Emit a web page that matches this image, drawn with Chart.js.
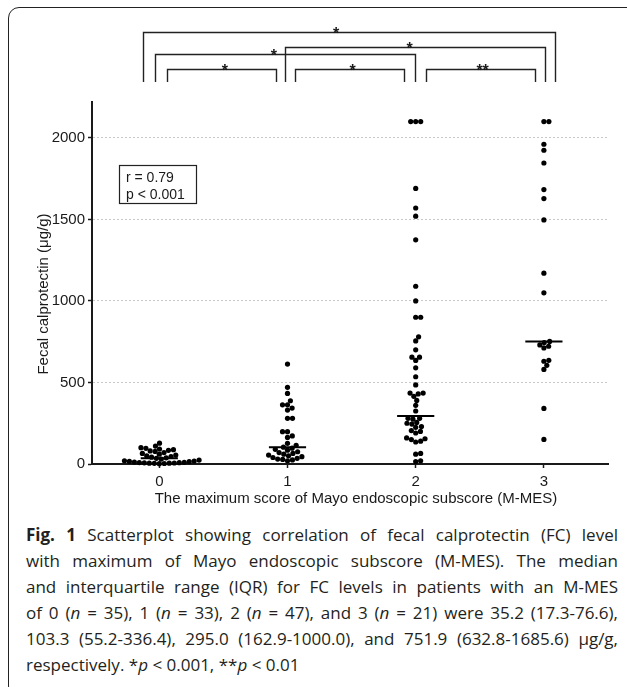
<!DOCTYPE html>
<html>
<head>
<meta charset="utf-8">
<script src="https://cdn.jsdelivr.net/npm/chart.js@4.4.1/dist/chart.umd.min.js"></script>
<style>
html, body { margin: 0; padding: 0; background: #fff; }
body { width: 627px; height: 687px; position: relative; overflow: hidden; }
#frame { position: absolute; left: 8px; top: 7px; width: 650px; height: 690px; border: 1.5px solid #222;
  border-radius: 11px 0 0 11px; box-sizing: border-box; }
#chart { position: absolute; left: 0; top: 0; }
#caption { position: absolute; left: 26px; top: 522px; width: 592px; font-family: "Open Sans", sans-serif;
  font-size: 17px; line-height: 26px; color: #231f20; }
#caption div { height: 26px; white-space: nowrap; }
#caption span { display: inline-block; transform-origin: 0 50%; }
</style>
</head>
<body>
<div id="frame"></div>
<canvas id="chart" width="627" height="520"></canvas>
<div id="caption">
<div><span><b>Fig. 1</b> Scatterplot showing correlation of fecal calprotectin (FC) level</span></div>
<div><span>with maximum of Mayo endoscopic subscore (M-MES). The median</span></div>
<div><span>and interquartile range (IQR) for FC levels in patients with an M-MES</span></div>
<div><span>of 0 (<i>n</i> = 35), 1 (<i>n</i> = 33), 2 (<i>n</i> = 47), and 3 (<i>n</i> = 21) were 35.2 (17.3-76.6),</span></div>
<div><span>103.3 (55.2-336.4), 295.0 (162.9-1000.0), and 751.9 (632.8-1685.6) μg/g,</span></div>
<div class="last"><span>respectively. *<i>p</i> &lt; 0.001, **<i>p</i> &lt; 0.01</span></div>
</div>
<script>
// M-MES groups
const categories = ['0', '1', '2', '3']
// fecal calprotectin (ug/g) per patient
const fc0 = [2, 3, 4, 5, 5, 6, 7, 8, 9, 10, 12, 14, 16, 18, 20, 24, 30, 35, 38, 42, 46, 50, 55, 60, 65, 70, 77, 80, 84, 88, 92, 96, 100, 110, 128]
const fc1 = [20, 25, 28, 30, 35, 40, 45, 50, 55, 60, 65, 70, 75, 85, 90, 97, 103, 115, 127, 163, 172, 198, 198, 280, 280, 331, 343, 363, 363, 388, 433, 470, 613]
const fc2 = [2100, 2100, 2100, 1690, 1570, 1520, 1375, 1090, 1000, 900, 900, 780, 755, 700, 655, 655, 635, 590, 535, 485,
  435, 435, 430, 415, 390, 360, 325, 280, 280, 275, 255, 250, 245, 230, 225, 205, 200, 190, 160, 155, 150, 140, 135, 65, 60, 20, 15]
const fc3 = [2100, 2100, 1961, 1924, 1846, 1683, 1628, 1497, 1170, 1050, 752, 745, 730, 722, 712, 636, 630, 605, 580, 341, 151]
const medians = [35.2, 103.3, 295.0, 751.9]
const yTicks = [0, 500, 1000, 1500, 2000]

// significance brackets, ends in x-axis units
const brackets = [
  { from: -0.13, to: 3.083, top: 32, mark: '*', at: 1.38 },
  { from: 0.984, to: 3.011, top: 47, mark: '*', at: 1.953 },
  { from: -0.034, to: 1.994, top: 54, mark: '*', at: 0.893 },
  { from: 0.062, to: 0.909, top: 69, mark: '*', at: 0.511 },
  { from: 1.062, to: 1.909, top: 69, mark: '*', at: 1.507 },
  { from: 2.078, to: 2.928, top: 69, mark: '**', at: 2.522 }
]
const bracketBottom = 82

const groups = [fc0, fc1, fc2, fc3]
const family = '"Liberation Sans", Arial, sans-serif'
const font = { family: family, size: 15 }
const ink = '#1a1a1a'

var annot = {
  id: 'annot',
  afterDraw(chart) {
    const ctx = chart.ctx
    const x = chart.scales.x
    ctx.save()
    ctx.strokeStyle = '#222'
    ctx.lineWidth = 1.4
    ctx.fillStyle = ink
    ctx.font = 'bold 16px ' + family
    ctx.textAlign = 'center'
    ctx.textBaseline = 'alphabetic'
    brackets.forEach(b => {
      const x1 = Math.round(x.getPixelForValue(b.from)) + 0.5
      const x2 = Math.round(x.getPixelForValue(b.to)) + 0.5
      ctx.beginPath()
      ctx.moveTo(x1, bracketBottom)
      ctx.lineTo(x1, b.top + 0.5)
      ctx.lineTo(x2, b.top + 0.5)
      ctx.lineTo(x2, bracketBottom)
      ctx.stroke()
      ctx.fillText(b.mark, x.getPixelForValue(b.at), b.top + 7)
    })
    // correlation box
    ctx.lineWidth = 1.2
    ctx.strokeRect(119.5, 165.5, 77, 38)
    ctx.font = '14px ' + family
    ctx.textAlign = 'left'
    ctx.textBaseline = 'middle'
    ctx.fillText('r = 0.79', 126, 178)
    ctx.fillText('p < 0.001', 126, 195)
    // axis titles
    ctx.font = '15px ' + family
    ctx.textAlign = 'center'
    ctx.fillText('The maximum score of Mayo endoscopic subscore (M-MES)', 356, 499)
    ctx.translate(44, 294)
    ctx.rotate(-Math.PI / 2)
    ctx.fillText('Fecal calprotectin (μg/g)', 0, 0)
    ctx.restore()
  }
}

var datasets = []
medians.forEach((m, i) => {
  datasets.push({
    data: [{ x: i - 0.145, y: m }, { x: i + 0.145, y: m }],
    showLine: true, borderColor: '#000', borderWidth: 2, pointRadius: 0, clip: false, order: 0
  })
})
groups.forEach((vals, i) => {
  datasets.push({
    data: vals.map(v => ({ x: i, y: v })),
    pointRadius: 2.6, pointBackgroundColor: '#000', pointBorderWidth: 0, showLine: false, clip: false, order: 1
  })
})

var ctx = document.getElementById('chart').getContext('2d')
var myChart = new Chart(ctx, {
  type: 'scatter',
  data: { datasets: datasets },
  options: {
    responsive: false,
    animation: false,
    layout: { padding: { top: 102, right: 19, left: 0, bottom: 0 } },
    plugins: { legend: { display: false }, tooltip: { enabled: false } },
    scales: {
      x: {
        type: 'linear', min: -0.525, max: 3.5,
        afterFit(s) { s.height = 56 },
        afterBuildTicks(s) { s.ticks = categories.map((c, i) => ({ value: i })) },
        ticks: { callback: v => categories[v], font: font, color: ink, padding: 5, maxRotation: 0 },
        grid: { drawOnChartArea: false, tickLength: 4, tickColor: ink, tickWidth: 1.5 },
        border: { color: ink, width: 2 }
      },
      y: {
        min: 0, max: 2220,
        afterFit(s) { s.width = 92 },
        afterBuildTicks(s) { s.ticks = yTicks.map(v => ({ value: v })) },
        ticks: { callback: v => String(v), font: font, color: ink, padding: 3 },
        grid: {
          color: c => (c.tick && c.tick.value === 0) ? 'rgba(0,0,0,0)' : '#c8c8c8',
          lineWidth: 1, tickLength: 4, tickColor: ink, tickWidth: 1.5
        },
        border: { color: ink, width: 2, dash: [2, 2] }
      }
    }
  },
  plugins: [annot]
})

// beeswarm: spread points sideways so dots of diameter d don't overlap
function swarm(py, d) {
  const idx = py.map((p, i) => i).sort((a, b) => py[b] - py[a])
  const placed = []
  const out = new Array(py.length)
  idx.forEach(i => {
    const cands = [0]
    placed.forEach(p => {
      const dy = py[i] - p.y
      if (Math.abs(dy) < d) {
        const w = Math.sqrt(d * d - dy * dy)
        cands.push(p.x + w, p.x - w)
      }
    })
    cands.sort((a, b) => Math.abs(a) - Math.abs(b))
    for (const c of cands) {
      if (placed.every(p => (c - p.x) * (c - p.x) + (py[i] - p.y) * (py[i] - p.y) >= d * d - 0.01)) {
        out[i] = c
        placed.push({ x: c, y: py[i] })
        break
      }
    }
  })
  return out
}

var xs = myChart.scales.x, ys = myChart.scales.y
var unit = xs.getPixelForValue(1) - xs.getPixelForValue(0)
groups.forEach((vals, i) => {
  const offs = swarm(vals.map(v => ys.getPixelForValue(v)), 5)
  myChart.data.datasets[medians.length + i].data = vals.map((v, k) => ({ x: i + offs[k] / unit, y: v }))
})
myChart.update()

// fit caption lines to the justified width of the figure legend
var full = 592
document.querySelectorAll('#caption div').forEach(div => {
  const span = div.querySelector('span')
  if (div.classList.contains('last')) return
  const w = span.getBoundingClientRect().width
  const gaps = (span.textContent.match(/ /g) || []).length
  if (w > full) span.style.transform = 'scaleX(' + (full / w) + ')'
  else span.style.wordSpacing = ((full - w) / gaps) + 'px'
})
</script>
</body>
</html>
